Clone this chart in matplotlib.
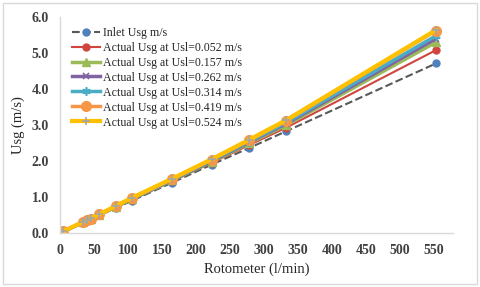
import matplotlib
matplotlib.use('Agg')
import matplotlib.pyplot as plt
from matplotlib.patches import Rectangle

# Расход по ротаметру (л/мин)
flow = [5, 34, 40, 45, 58, 82, 106, 165, 223, 278, 333, 553]

# Скорость газа на входе
inlet = [0.04, 0.29, 0.34, 0.38, 0.49, 0.70, 0.90, 1.40, 1.90, 2.36, 2.83, 4.71]

# Фактическая скорость газа при разных Usl
usl_052 = [0.04, 0.30, 0.35, 0.39, 0.50, 0.72, 0.93, 1.44, 1.95, 2.44, 2.93, 5.08]
usl_157 = [0.04, 0.30, 0.35, 0.39, 0.51, 0.73, 0.94, 1.46, 1.98, 2.49, 3.00, 5.30]
usl_262 = [0.04, 0.30, 0.35, 0.40, 0.51, 0.73, 0.95, 1.47, 2.00, 2.52, 3.04, 5.40]
usl_314 = [0.04, 0.30, 0.35, 0.40, 0.51, 0.74, 0.96, 1.48, 2.02, 2.54, 3.07, 5.48]
usl_419 = [0.05, 0.31, 0.36, 0.40, 0.52, 0.75, 0.97, 1.50, 2.04, 2.57, 3.12, 5.62]
usl_524 = [0.05, 0.31, 0.36, 0.41, 0.52, 0.75, 0.98, 1.51, 2.05, 2.59, 3.14, 5.64]

labels = ['Inlet Usg m/s',
          'Actual Usg at Usl=0.052 m/s',
          'Actual Usg at Usl=0.157 m/s',
          'Actual Usg at Usl=0.262 m/s',
          'Actual Usg at Usl=0.314 m/s',
          'Actual Usg at Usl=0.419 m/s',
          'Actual Usg at Usl=0.524 m/s']

x_ticks = [0, 50, 100, 150, 200, 250, 300, 350, 400, 450, 500, 550]
y_ticks = [0.0, 1.0, 2.0, 3.0, 4.0, 5.0, 6.0]

plt.rcParams['font.family'] = ['Liberation Serif', 'DejaVu Serif']

fig = plt.figure(figsize=(4.8, 2.87), dpi=100)
ax = fig.add_axes([60 / 480, 1 - 233 / 287, (453 - 60) / 480, (233 - 17) / 287])

# Рамка вокруг всей диаграммы
fig.patches.append(Rectangle((3 / 480, 3 / 287), 474 / 480, 281 / 287,
                             transform=fig.transFigure, fill=False,
                             edgecolor='#D9D9D9', linewidth=1))

ax.plot(flow, inlet, color='#595959', linestyle='--', linewidth=1.5,
        marker='o', markersize=5, markerfacecolor='#4F81BD', markeredgecolor='#4F81BD',
        label=labels[0])
ax.plot(flow, usl_052, color='#D0463F', linewidth=1.5, marker='o', markersize=5,
        label=labels[1])
ax.plot(flow, usl_157, color='#9BBB59', linewidth=2.5, marker='^', markersize=6,
        label=labels[2])
ax.plot(flow, usl_262, color='#8064A2', linewidth=2.5, marker='x', markersize=5,
        markeredgewidth=1.2, label=labels[3])
ax.plot(flow, usl_314, color='#4BACC6', linewidth=2.5, marker=(6, 2, 0), markersize=6,
        markeredgewidth=1.2, label=labels[4])
ax.plot(flow, usl_419, color='#F79646', linewidth=2.5, marker='o', markersize=7,
        label=labels[5])
ax.plot(flow, usl_524, color='#FFC000', linewidth=3, marker='+', markersize=6,
        markeredgewidth=1.2, markeredgecolor='#A5A5A5', label=labels[6])

ax.set_xlim(0, 578)
ax.set_ylim(0, 6.0)
ax.set_xticks(x_ticks)
ax.set_yticks(y_ticks)
ax.set_yticklabels(['%.1f' % v for v in y_ticks])
ax.tick_params(length=0, labelsize=10, colors='#404040')
ax.tick_params(axis='x', pad=8)
ax.tick_params(axis='y', pad=8)
for lbl in ax.get_xticklabels() + ax.get_yticklabels():
    lbl.set_fontweight('bold')

for s in ['top', 'right']:
    ax.spines[s].set_visible(False)
for s in ['left', 'bottom']:
    ax.spines[s].set_color('#D9D9D9')
    ax.spines[s].set_linewidth(1)

ax.set_xlabel('Rotometer (l/min)', fontsize=10.5, color='#262626', labelpad=4)
ax.set_ylabel('Usg (m/s)', fontsize=10.5, color='#262626', labelpad=5)

leg = ax.legend(loc='upper left', bbox_to_anchor=(0.03, 0.955), frameon=False,
                fontsize=8.6, handlelength=2.4, labelspacing=0.25, borderaxespad=0,
                handletextpad=0.25, borderpad=0)
for t in leg.get_texts():
    t.set_color('#262626')

fig.savefig('out.png', dpi=100)
